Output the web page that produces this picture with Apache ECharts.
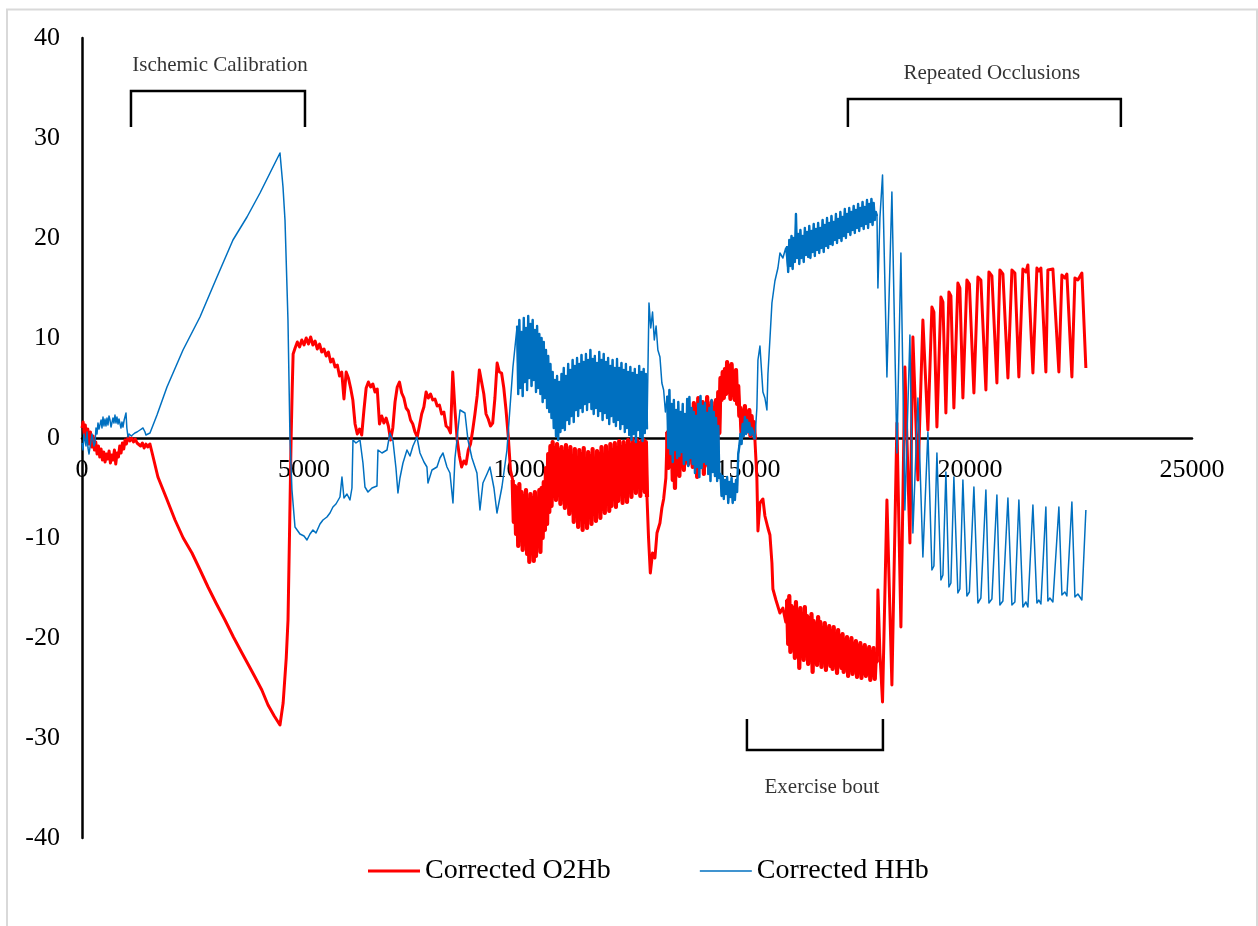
<!DOCTYPE html>
<html>
<head>
<meta charset="utf-8">
<title>Corrected O2Hb / HHb</title>
<script src="https://cdn.jsdelivr.net/npm/echarts@6/dist/echarts.min.js"></script>
<style>
  html, body { margin: 0; padding: 0; background: #ffffff; }
  #chart { width: 1258px; height: 926px; }
</style>
</head>
<body>
<div id="chart"></div>
<script>
// ---- axis ticks ----
const xTicks = [0, 5000, 10000, 15000, 20000, 25000];
const yTicks = [-40, -30, -20, -10, 0, 10, 20, 30, 40];
const seriesNames = ['Corrected O2Hb', 'Corrected HHb'];

// ---- Corrected O2Hb ----
const o2hbBaseline = [
  [0,1.0],[25,1.6],[50,0.4],[75,1.3],[100,-0.2],[130,0.9],[160,-0.6],[190,0.6],[220,-0.9],[250,0.2],
  [280,-1.2],[310,-0.4],[340,-1.6],[370,-0.8],[400,-1.9],[430,-1.1],[460,-2.2],[490,-1.4],[520,-2.4],[550,-1.6],
  [580,-2.1],[610,-1.3],[640,-2.5],[670,-1.7],[700,-2.2],[730,-1.2],[760,-2.6],[790,-1.5],[820,-1.9],[850,-0.8],
  [880,-1.5],[910,-0.5],[940,-1.1],[970,-0.2],[1000,-0.6],[1040,0.1],[1080,-0.3],[1120,0.0],[1160,-0.4],[1200,-0.1],
  [1240,-0.5],[1280,-0.3],[1320,-0.8],[1360,-0.5],[1400,-1.0],[1440,-0.6],[1480,-0.9],[1530,-0.6]
];
const o2hbCalibration = [
  [1580,-1.5],[1710,-3.9],[1900,-6.0],[2095,-8.2],[2280,-10.0],[2477,-11.5],[2660,-13.2],[2838,-14.9],
  [3030,-16.6],[3220,-18.2],[3410,-19.9],[3603,-21.5],[3750,-22.7],[3896,-23.9],[4050,-25.2],[4190,-26.7],
  [4330,-27.8],[4459,-28.7],[4530,-26.5],[4600,-22.0],[4640,-18.2],[4680,-8.0],[4710,0.0],[4735,5.0],[4755,8.4]
];
// from sample 4800, every 50 samples
const o2hbRecovery = [
  9.0,9.6,9.1,9.8,9.3,10.0,9.4,10.1,9.3,9.7,
  8.9,9.4,8.6,8.9,8.2,8.6,7.6,7.9,7.1,7.3,
  6.2,6.6,3.9,6.6,6.0,5.0,3.8,1.4,0.4,0.9,
  0.3,2.8,5.0,5.6,5.1,5.4,4.6,4.9,1.4,2.2,
  1.5,2.0,1.2,-0.2,1.0,3.6,5.1,5.6,4.5,4.0,
  3.0,2.7,1.8,1.4,0.6,0.1,1.2,2.4,3.1,4.6,
  4.0,4.4,3.8,3.9,3.2,3.3,2.4,2.6,1.2,1.0,
  0.5,6.6,2.8,-0.2,-1.8,-2.9,-2.3,-2.6,-1.2,-0.6,
  0.8,2.4,4.2,6.8,5.6,4.4,2.4,1.9,1.2,1.5,
  4.0,7.5,6.6,6.5,5.0,2.8,0.2,-3.2
];
// from sample 9700, every 25 samples
const o2hbSwingA = [
  -4.2,-8.4,-4.8,-9.6,-5.0,-10.8,-4.6,-9.8,-5.4,-11.2,
  -5.8,-10.2,-5.2,-11.6,-6.2,-12.4,-5.6,-11.0,-6.0,-12.3,
  -5.4,-11.8,-6.3,-10.6,-5.2,-11.4,-5.0,-10.0,-4.4,-9.2,
  -3.0,-8.6,-1.6,-7.4,-0.8,-6.8,-0.4,-5.8,-1.0,-6.2,
  -0.6,-5.4,-1.2,-6.6,-0.9,-5.8,-1.4,-7.0,-0.7,-6.4,
  -1.3,-7.6,-0.9,-6.9,-1.8,-8.4,-1.1,-7.8,-2.0,-8.9,
  -1.2,-8.1,-1.6,-9.2,-1.0,-8.4,-2.1,-9.0,-1.4,-7.9,
  -1.8,-8.6,-1.1,-7.6,-2.2,-8.3,-1.3,-7.2,-1.6,-8.0,
  -0.9,-7.1,-1.7,-7.5,-0.8,-6.6,-1.5,-7.3,-0.6,-6.8,
  -1.2,-6.1,-0.5,-6.9,-1.0,-6.3,-0.3,-5.6,-0.9,-6.5,
  -0.4,-5.8,-0.8,-6.4,-0.2,-5.2,-0.7,-5.9,-0.1,-4.9,
  -0.6,-5.5,-0.2,-4.6,-0.5,-5.8,-0.3,-5.0,-0.2,-5.4,
  -0.4,-5.9
];
const o2hbDip = [
  [12760,-10.0],[12800,-13.5],[12850,-11.5],[12904,-12.0],[12950,-9.5],[13017,-8.5],[13060,-7.0],[13100,-6.1],[13150,-4.0]
];
// from sample 13180, every 25 samples
const o2hbSwingB = [
  0.6,-3.0,0.9,-2.4,1.2,-4.2,0.3,-5.0,0.8,-3.6,
  0.4,-3.8,1.5,-2.8,0.6,-3.2,1.8,-2.2,0.9,-2.6,
  2.5,-1.8,1.6,-2.9,3.5,-1.6,2.4,-3.9,4.0,-2.4,
  2.8,-2.5,3.6,-3.6,2.6,-2.0,4.1,-2.8,3.2,-1.9,
  3.6,-2.2,2.8,-1.4,3.8,-1.0,4.6,0.5,6.0,3.8,
  6.6,4.0,6.9,4.4,7.6,4.6,7.2,3.9,7.4,4.7,
  6.5,3.8,6.8,3.4,5.2,2.2,3.0,0.4,2.6,0.8,
  3.2,0.6,2.4,1.0,2.8,0.2,2.2,0.5,1.6,-0.1
];
const o2hbExerciseOnset = [
  [15200,-4.0],[15224,-9.3],[15269,-6.5],[15336,-6.1],[15381,-7.8],[15449,-9.0],[15494,-9.7],[15539,-12.5],[15561,-15.1],[15629,-16.2],
  [15719,-17.5],[15786,-17.0],[15850,-18.4]
];
// from sample 15880, every 25 samples
const o2hbExerciseBand = [
  -16.2,-20.6,-15.8,-21.4,-16.8,-20.2,-17.0,-22.0,-16.4,-21.2,
  -17.4,-23.0,-17.0,-21.8,-17.6,-22.2,-16.9,-21.5,-17.8,-22.6,
  -18.0,-22.1,-17.6,-23.4,-18.3,-22.0,-18.6,-22.7,-17.9,-21.9,
  -18.4,-22.9,-19.0,-22.3,-18.5,-23.2,-19.1,-22.0,-18.8,-22.8,
  -19.3,-23.1,-18.9,-22.4,-19.6,-23.5,-19.2,-22.6,-19.8,-23.0,
  -19.6,-23.4,-20.2,-22.7,-19.9,-23.8,-20.4,-23.0,-20.0,-23.6,
  -20.6,-23.2,-20.3,-23.9,-20.8,-23.3,-20.5,-24.0,-21.0,-23.5,
  -20.7,-23.8,-21.2,-23.4,-20.9,-24.2,-21.4,-23.6,-21.0,-24.1,
  -21.6,-22.4
];
const o2hbOcclusions = [
  [17926,-15.2],[17971,-21.5],[18030,-26.4],[18129,-6.2],[18241,-24.7],[18354,1.5],[18444,-18.9],[18534,7.1],[18647,-10.5],[18714,10.1],
  [18827,-4.2],[18939,11.8],
  [19052,0.8],[19142,13.1],[19187,12.6],[19255,1.1],[19345,14.1],[19390,13.6],[19457,2.5],[19525,14.6],[19570,14.2],[19637,3.0],
  [19727,15.5],[19772,15.0],[19840,4.0],[19930,15.8],[19986,15.4],[20088,4.5],[20178,16.1],[20245,15.8],[20358,4.8],[20426,16.6],
  [20493,16.2],[20606,5.5],[20673,16.8],[20741,16.4],[20854,6.0],[20944,16.8],[21011,16.5],[21101,6.1],[21191,16.9],[21259,16.6],
  [21304,17.3],[21417,6.5],[21507,17.0],[21552,16.7],[21597,17.0],[21709,6.6],[21754,16.8],[21799,16.6],[21867,16.9],[22002,6.6],
  [22070,16.3],[22137,16.0],[22182,16.4],[22295,6.1],[22363,16.0],[22430,15.8],[22520,16.5],[22610,7.0]
];

// ---- Corrected HHb ----
const hhbBaseline = [
  [0,-0.5],[23,-1.2],[45,0.4],[68,0.5],[90,-0.8],[113,0.6],[135,-1.0],[158,-1.6],[180,-1.5],[205,-0.2],
  [225,0.4],[248,0.3],[270,-0.8],[293,-0.5],[315,1.0],[338,0.4],[360,1.5],[383,0.9],[405,0.8],[430,1.8],
  [450,1.0],[473,2.1],[495,1.2],[518,1.9],[540,1.2],[563,2.0],[585,1.3],[608,2.2],[631,1.8],[653,1.1],
  [676,1.2],[698,2.0],[720,1.5],[743,2.3],[765,1.5],[788,2.1],[811,1.4],[833,1.9],[856,1.8],[878,1.0],
  [900,1.6],[923,1.1],[950,1.8],[991,2.5],[1010,1.0],[1036,0.1],[1060,0.4],[1081,0.5],[1110,0.2],[1149,0.3],
  [1190,0.5],[1239,0.6],[1280,0.7],[1306,0.8],[1340,0.9],[1374,1.0],[1400,0.8],[1419,0.6],[1440,0.3],[1464,0.1]
];
const hhbCalibration = [
  [1531,0.5],[1689,2.3],[1914,5.1],[2275,8.8],[2657,12.1],[3040,16.1],[3400,19.8],[3716,22.1],[4009,24.5],
  [4234,26.5],[4459,28.5],[4527,25.1],[4572,21.8],[4639,11.8],[4684,0.0],[4729,-5.2],[4797,-8.9]
];
const hhbRecovery = [
  [4909,-9.6],[5000,-9.8],[5067,-10.2],[5135,-9.6],[5202,-9.2],[5270,-9.5],[5360,-8.6],[5427,-8.2],[5517,-7.9],[5585,-7.5],
  [5652,-6.9],[5720,-6.6],[5810,-5.9],[5855,-3.9],[5900,-6.0],[5968,-5.6],[6035,-6.2],[6080,-5.0],[6103,-0.2],[6170,-0.5],
  [6261,-0.2],[6328,-2.5],[6373,-4.9],[6441,-5.4],[6531,-5.0],[6643,-4.8],[6666,-1.2],[6756,-1.5],[6869,-1.2],[6936,0.5],
  [7004,-0.3],[7071,-3.0],[7116,-5.5],[7161,-4.0],[7229,-2.5],[7319,-1.2],[7387,-1.8],[7454,-0.8],[7544,0.1],[7612,-1.5],
  [7702,-2.4],[7769,-2.9],[7792,-4.5],[7882,-3.2],[7995,-2.9],[8062,-2.0],[8130,-1.5],[8220,-2.9],[8287,-3.5],[8355,-6.5],
  [8400,-2.0],[8445,-0.2],[8513,2.8],[8625,2.5],[8693,-0.2],[8783,-2.0],[8895,-3.5],[8963,-7.2],[9030,-4.5],[9121,-3.6],
  [9188,-2.9],[9278,-5.0],[9346,-7.5],[9458,-4.9],[9571,-1.2],[9639,3.0],[9706,7.1]
];
// from sample 9800, every 25 samples
const hhbSwingA = [
  11.2,4.4,11.8,5.0,10.6,4.2,12.0,5.6,11.0,4.8,
  12.2,6.0,11.4,5.2,11.8,5.8,10.8,4.6,11.2,5.0,
  10.4,4.4,10.0,3.6,9.6,4.0,8.8,3.0,8.2,2.6,
  7.4,2.0,6.6,1.0,5.8,0.2,6.2,-0.2,5.6,0.6,
  6.4,1.0,7.0,0.8,6.2,1.8,7.4,1.4,6.8,2.2,
  7.8,1.6,7.2,2.8,8.0,2.2,7.4,3.0,8.3,2.6,
  7.6,3.4,8.4,2.8,7.8,3.6,8.8,2.9,7.9,2.4,
  8.2,3.0,7.5,2.2,8.6,2.7,7.8,1.8,8.4,2.5,
  7.6,2.0,8.0,1.4,7.2,2.2,7.8,1.6,7.0,1.2,
  7.9,1.8,7.0,0.9,7.5,1.4,6.8,0.6,7.4,1.0,
  6.6,0.3,7.1,-0.2,6.5,0.4,6.9,-0.4,6.3,0.8,
  7.2,0.1,6.6,-0.3,6.9,0.5,6.4,0.9
];
const hhbDip = [
  [12770,13.5],[12810,11.0],[12850,12.6],[12890,9.8],[12930,11.2],[12970,8.8],[13017,8.1],[13060,5.5],[13100,4.8],[13140,2.6]
];
// from sample 13180, every 25 samples
const hhbSwingB = [
  4.2,-1.0,4.8,-1.6,3.4,-2.4,3.8,-1.2,2.8,-2.0,
  3.6,-1.8,2.6,-1.4,3.4,-2.6,2.4,-2.2,3.9,-2.8,
  4.1,-2.0,3.0,-2.6,2.6,-3.5,2.2,-2.9,3.4,-3.9,
  4.2,-3.0,3.2,-2.4,3.5,-2.6,2.5,-3.6,3.0,-4.3,
  3.8,-3.4,2.6,-3.8,2.0,-4.3,1.2,-4.0,-3.6,-5.8,
  -3.8,-6.1,-4.2,-5.6,-3.9,-6.5,-4.4,-5.9,-4.0,-6.5,
  -4.6,-6.2,-4.2,-5.4,-1.6,-0.8,0.4,-0.6,1.4,0.2,
  2.1,0.4,1.8,0.6,1.5,0.3,1.0,0.7,0.2,-0.1
];
const hhbExerciseOnset = [
  [15200,3.0],[15224,7.8],[15269,9.2],[15336,4.6],[15381,4.0],[15426,2.8],[15449,6.4],[15494,9.9],[15539,13.5],[15606,15.7],
  [15674,17.0],[15719,18.5],[15786,18.0],[15850,19.0]
];
// from sample 15880, every 25 samples
const hhbExerciseBand = [
  19.2,16.6,19.8,17.2,20.2,16.9,20.0,17.6,22.4,18.0,
  20.4,17.4,20.8,18.0,20.2,17.6,21.0,18.3,20.6,18.1,
  21.2,18.0,20.7,18.6,21.4,18.2,20.9,18.8,21.5,18.5,
  21.0,19.0,21.8,18.6,21.3,19.2,22.0,19.0,21.5,19.4,
  22.2,19.3,21.6,19.8,22.4,19.5,21.9,20.0,22.6,19.7,
  22.1,20.2,22.9,20.0,22.4,20.6,23.0,20.3,22.6,20.8,
  23.2,20.5,22.8,21.0,23.4,20.7,23.0,21.2,23.6,20.9,
  23.1,21.4,23.8,21.0,23.4,21.6,23.9,21.3,23.5,21.8,
  22.6,22.2
];
const hhbOcclusions = [
  [17926,15.0],[17971,22.0],[18030,26.3],[18129,6.1],[18241,24.6],[18354,-1.5],[18444,18.5],[18534,-7.2],[18647,10.3],[18714,-9.5],
  [18827,4.0],[18939,-11.9],
  [19052,0.6],[19142,-13.2],[19187,-12.8],[19255,-1.5],[19345,-14.2],[19390,-13.7],[19457,-3.4],[19525,-14.9],[19570,-14.5],[19637,-3.9],
  [19727,-15.5],[19772,-15.1],[19840,-4.2],[19930,-15.8],[19986,-15.4],[20088,-4.9],[20178,-16.5],[20245,-16.0],[20358,-5.2],[20426,-16.5],
  [20493,-16.1],[20606,-5.7],[20673,-16.7],[20741,-16.3],[20854,-6.0],[20944,-16.7],[21011,-16.4],[21101,-6.2],[21191,-16.9],[21259,-16.4],
  [21304,-16.9],[21417,-6.7],[21507,-16.5],[21552,-16.2],[21597,-16.6],[21709,-6.9],[21754,-16.3],[21799,-16.0],[21867,-16.4],[22002,-6.9],
  [22070,-15.7],[22137,-15.4],[22182,-15.8],[22295,-6.4],[22363,-15.9],[22430,-15.6],[22520,-16.2],[22610,-7.2]
];

// turn an evenly sampled run into [sample, value] pairs
function run(start, step, values) {
  return values.map((v, i) => [start + i * step, v]);
}

const o2hbRuns = [run(9700, 25, o2hbSwingA), run(13180, 25, o2hbSwingB), run(15880, 25, o2hbExerciseBand)];
const hhbRuns = [run(9800, 25, hhbSwingA), run(13180, 25, hhbSwingB), run(15880, 25, hhbExerciseBand)];

const o2hb = [].concat(
  o2hbBaseline, o2hbCalibration, run(4800, 50, o2hbRecovery), o2hbRuns[0], o2hbDip,
  o2hbRuns[1], o2hbExerciseOnset, o2hbRuns[2], o2hbOcclusions
);
const hhb = [].concat(
  hhbBaseline, hhbCalibration, hhbRecovery, hhbRuns[0], hhbDip,
  hhbRuns[1], hhbExerciseOnset, hhbRuns[2], hhbOcclusions
);

// ---- protocol phase brackets (data space) ----
const phases = [
  { name: 'Ischemic Calibration', from: 1103, to: 5022, level: 34.7, tip: 31.1, labelX: 3108, labelY: 37.3 },
  { name: 'Repeated Occlusions', from: 17250, to: 23398, level: 33.9, tip: 31.1, labelX: 20493, labelY: 36.5 },
  { name: 'Exercise bout', from: 14976, to: 18039, level: -31.2, tip: -28.1, labelX: 16665, labelY: -34.9 }
];

const serif = 'Liberation Serif, Times New Roman, serif';
const red = '#ff0000';
const blue = '#0070c0';
const chart = echarts.init(document.getElementById('chart'), null, { renderer: 'canvas' });

function trace(name, data, color, width, z) {
  return {
    name: name,
    type: 'line',
    data: data,
    symbol: 'none',
    showSymbol: false,
    sampling: null,
    silent: true,
    lineStyle: { color: color, width: width, join: 'round' },
    itemStyle: { color: color },
    z: z
  };
}

const bracketSeries = phases.map(p => ({
  type: 'line',
  name: p.name,
  data: [[p.from, p.tip], [p.from, p.level], [p.to, p.level], [p.to, p.tip]],
  symbol: 'none',
  silent: true,
  lineStyle: { color: '#000000', width: 2.5, join: 'miter' },
  z: 5
}));

const phaseLabels = {
  type: 'scatter',
  silent: true,
  symbolSize: 0,
  data: phases.map(p => ({ name: p.name, value: [p.labelX, p.labelY] })),
  label: {
    show: true,
    position: 'inside',
    formatter: d => d.name,
    color: '#000000',
    fontFamily: serif,
    fontSize: 21
  },
  z: 6
};

const plainNumber = v => String(v);

chart.setOption({
  animation: false,
  backgroundColor: '#ffffff',
  graphic: [{
    type: 'rect',
    shape: { x: 7, y: 9.5, width: 1250, height: 960 },
    style: { fill: 'none', stroke: '#d9d9d9', lineWidth: 2 },
    silent: true,
    z: -10
  }],
  grid: [
    { left: 82, right: 66, top: 38, bottom: 88, containLabel: false, outerBoundsMode: 'none' },
    // upper half: its lower edge is the zero line, so its x labels sit just under it
    { left: 82, right: 66, top: 38, bottom: 488, containLabel: false, outerBoundsMode: 'none' }
  ],
  legend: {
    data: [
      { name: seriesNames[0], icon: 'path://M0,0H52V3H0Z' },
      { name: seriesNames[1], icon: 'path://M0,0H52V1.6H0Z' }
    ],
    left: 368,
    top: 857,
    padding: 0,
    itemWidth: 52,
    itemHeight: 14,
    itemGap: 89,
    symbolKeepAspect: true,
    itemStyle: { borderWidth: 0 },
    textStyle: { fontFamily: serif, fontSize: 28, color: '#000000' }
  },
  xAxis: [
    {
      type: 'value',
      gridIndex: 0,
      min: xTicks[0],
      max: xTicks[xTicks.length - 1],
      interval: xTicks[1] - xTicks[0],
      axisLine: { show: true, onZero: true, lineStyle: { color: '#000000', width: 2.5 } },
      axisTick: { show: false },
      splitLine: { show: false },
      axisLabel: { show: false }
    },
    {
      type: 'value',
      gridIndex: 1,
      min: xTicks[0],
      max: xTicks[xTicks.length - 1],
      interval: xTicks[1] - xTicks[0],
      axisLine: { show: false },
      axisTick: { show: false },
      splitLine: { show: false },
      axisLabel: {
        fontFamily: serif, fontSize: 26, color: '#000000', margin: 19,
        showMinLabel: true, showMaxLabel: true, formatter: plainNumber
      }
    }
  ],
  yAxis: [
    {
      type: 'value',
      gridIndex: 0,
      min: yTicks[0],
      max: yTicks[yTicks.length - 1],
      interval: yTicks[1] - yTicks[0],
      axisLine: { show: true, onZero: false, lineStyle: { color: '#000000', width: 2.5 } },
      axisTick: { show: false },
      splitLine: { show: false },
      axisLabel: {
        fontFamily: serif, fontSize: 26, color: '#000000', margin: 22,
        showMinLabel: true, showMaxLabel: true, formatter: plainNumber
      }
    },
    { type: 'value', gridIndex: 1, show: false, min: 0, max: 1 }
  ],
  series: [].concat(
    [trace(seriesNames[0], o2hb, red, 3, 2)],
    // the fast swings are drawn a little heavier so the dense trace reads as a solid band
    o2hbRuns.map(r => trace(seriesNames[0], r, red, 4.2, 2)),
    [trace(seriesNames[1], hhb, blue, 1.5, 3)],
    hhbRuns.map(r => trace(seriesNames[1], r, blue, 2.4, 3)),
    bracketSeries,
    [phaseLabels]
  )
});
</script>
</body>
</html>
